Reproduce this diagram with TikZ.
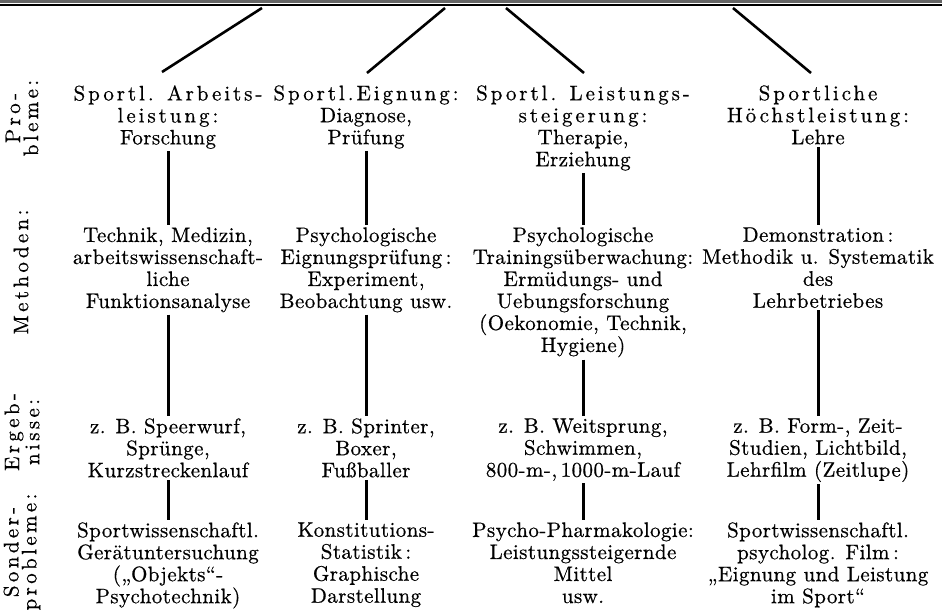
\documentclass[tikz,border=0pt]{standalone}
\usepackage{fontspec}
\setmainfont{lmroman10-regular.otf}[LetterSpace=2,FakeBold=0.6]
\usepackage{tikz}
\usetikzlibrary{positioning}
\newcommand{\gesperrt}[1]{{\addfontfeature{LetterSpace=14}#1}}

\begin{document}
\begin{tikzpicture}[x=0.5pt,y=-0.5pt,
 cell/.style={align=center,inner sep=1pt,anchor=north,font=\fontsize{10.5}{11}\selectfont},
 rowlabel/.style={align=center,rotate=90,inner sep=0pt,font=\fontsize{10.5}{9}\selectfont\addfontfeature{LetterSpace=16}},
 stem/.style={line width=1.5pt},
 branch/.style={line width=1.3pt}]
\useasboundingbox (0,0) rectangle (942,614);
% rule of the upper part
\draw[line width=1.5pt,black!60] (0,1.5) -- (942,1.5);
\draw[line width=0.6pt] (0,5) -- (942,5);
\coordinate (t1) at (262,8);\coordinate (t2) at (445,8);\coordinate (t3) at (506,8);\coordinate (t4) at (733,8);
% row labels
\node[rowlabel] (lp) at (22,118) {Pro-\\bleme:};
\node[rowlabel] (lm) at (21,272) {Methoden:};
\node[rowlabel] (le) at (22,432) {Ergeb-\\nisse:};
\node[rowlabel] (ls) at (22,552) {Sonder-\\probleme:};
% Probleme
\node[cell] (h1) at (168,83) {\gesperrt{Sportl. Arbeits-}\\\gesperrt{leistung:}\\Forschung};
\node[cell] (h2) at (366,83) {\gesperrt{Sportl.Eignung:}\\Diagnose,\\Prüfung};
\node[cell] (h3) at (583,83) {\gesperrt{Sportl. Leistungs-}\\\gesperrt{steigerung:}\\Therapie,\\Erziehung};
\node[cell] (h4) at (818,83) {\gesperrt{Sportliche}\\\gesperrt{Höchstleistung:}\\Lehre};
% Methoden
\node[cell] (m1) at (168,225) {Technik, Medizin,\\arbeitswissenschaft-\\liche\\Funktionsanalyse};
\node[cell] (m2) at (366,225) {Psychologische\\Eignungsprüfung\,:\\Experiment,\\Beobachtung usw.};
\node[cell] (m3) at (583,225) {Psychologische\\Trainingsüberwachung:\\Ermüdungs- und\\Uebungsforschung\\(Oekonomie, Technik,\\Hygiene)};
\node[cell] (m4) at (818,225) {Demonstration\,:\\Methodik u. Systematik\\des\\Lehrbetriebes};
% Ergebnisse
\node[cell] (e1) at (168,416) {z. B. Speerwurf,\\Sprünge,\\Kurzstreckenlauf};
\node[cell] (e2) at (366,416) {z. B. Sprinter,\\Boxer,\\Fußballer};
\node[cell] (e3) at (583,416) {z. B. Weitsprung,\\Schwimmen,\\800-m-,\,1000-m-Lauf};
\node[cell] (e4) at (818,416) {z. B. Form-, Zeit-\\Studien, Lichtbild,\\Lehrfilm (Zeitlupe)};
% Sonderprobleme
\node[cell] (s1) at (168,520) {Sportwissenschaftl.\\Gerätuntersuchung\\(„Objekts“-\\Psychotechnik)};
\node[cell] (s2) at (366,520) {Konstitutions-\\Statistik\,:\\Graphische\\Darstellung};
\node[cell] (s3) at (583,520) {Psycho-Pharmakologie:\\Leistungssteigernde\\Mittel\\usw.};
\node[cell] (s4) at (818,520) {Sportwissenschaftl.\\psycholog. Film\,:\\„Eignung und Leistung\\im Sport“};
\draw[branch] (t1) -- ([xshift=-3pt,yshift=5.5pt]h1.north);\draw[branch] (t2) -- ([xshift=0.5pt,yshift=5pt]h2.north);
\draw[branch] (t3) -- ([xshift=0.5pt,yshift=5pt]h3.north);\draw[branch] (t4) -- ([xshift=-3.5pt,yshift=5pt]h4.north);
\draw[stem] (h1) -- (m1);\draw[stem] (h2) -- (m2);\draw[stem] (h3) -- (m3);\draw[stem] (h4) -- (m4);
\draw[stem] (m1) -- (e1);\draw[stem] (m2) -- (e2);\draw[stem] (m3) -- (e3);\draw[stem] (m4) -- (e4);
\draw[stem] (e1) -- (s1);\draw[stem] (e2) -- (s2);\draw[stem] (e3) -- (s3);\draw[stem] (e4) -- (s4);
\end{tikzpicture}
\end{document}
